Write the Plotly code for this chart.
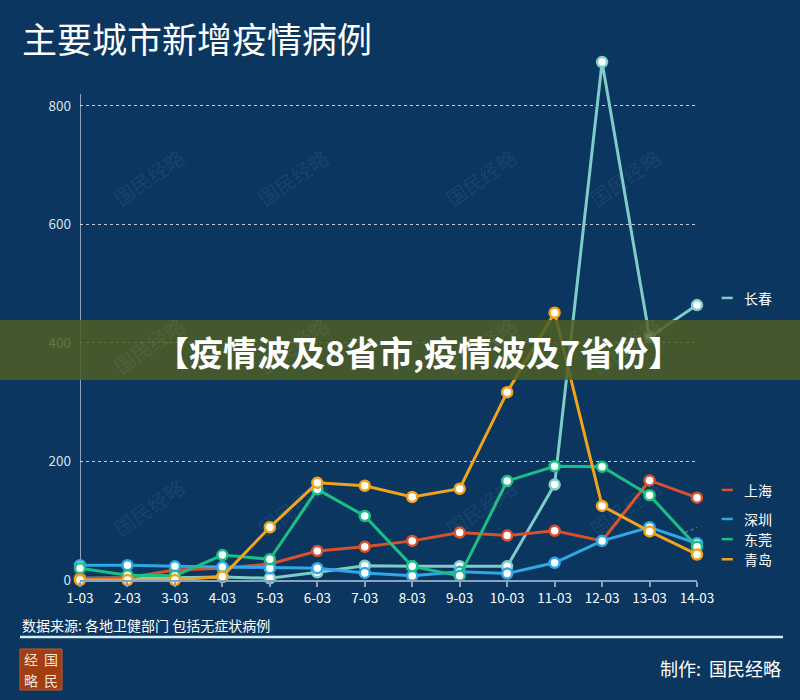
import plotly.graph_objects as go

dates = ["1-03", "2-03", "3-03", "4-03", "5-03", "6-03", "7-03", "8-03", "9-03", "10-03", "11-03", "12-03", "13-03", "14-03"]
changchun = [3, 3, 4, 5, 3, 13, 24, 23, 23, 23, 161, 874, 410, 464]
shanghai = [2, 4, 17, 20, 27, 49, 56, 66, 80, 75, 83, 66, 168, 139]
shenzhen = [25, 25, 23, 22, 20, 20, 12, 7, 14, 11, 29, 66, 89, 62]
dongguan = [20, 8, 7, 42, 35, 153, 108, 23, 7, 167, 192, 191, 143, 56]
qingdao = [0, 0, 0, 6, 89, 164, 159, 140, 154, 317, 451, 125, 82, 43]

series = [
    ("长春", changchun, "#7fcdc8"),
    ("上海", shanghai, "#d9512c"),
    ("深圳", shenzhen, "#2ea9e6"),
    ("东莞", dongguan, "#1bbf84"),
    ("青岛", qingdao, "#f0a31c"),
]
label_y = {"长春": 476, "上海": 152, "深圳": 103, "东莞": 69, "青岛": 35}

BG = "#0a3660"
FONT = "Noto Sans CJK SC"
xs = list(range(len(dates)))

fig = go.Figure()
for name, vals, col in series:
    fig.add_trace(go.Scatter(
        x=xs, y=vals, mode="lines+markers", name=name,
        line=dict(color=col, width=3),
        marker=dict(size=10, color="white", line=dict(color=col, width=2.5)),
        cliponaxis=False, showlegend=False,
    ))

annotations = []
shapes = []

# legend-like end labels
for name, vals, col in series:
    y = label_y[name]
    shapes.append(dict(type="line", xref="paper", yref="y", x0=1.04, x1=1.058, y0=y, y1=y,
                       line=dict(color=col, width=2.5)))
    annotations.append(dict(text=name, xref="paper", yref="y", x=1.074, y=y, xanchor="left",
                            yanchor="middle", showarrow=False, borderpad=0,
                            font=dict(family=FONT, size=14, color="white")))

# leader dotted lines
shapes.append(dict(type="line", xref="x", yref="y", x0=12.75, x1=13.5, y0=80, y1=106,
                   line=dict(color="rgba(200,215,230,0.6)", width=1, dash="dot")))
shapes.append(dict(type="line", xref="x", yref="y", x0=13.05, x1=13.5, y0=42, y1=36,
                   line=dict(color="rgba(200,215,230,0.6)", width=1, dash="dot")))

# left axis line
shapes.append(dict(type="line", xref="x", yref="y", x0=0, x1=0, y0=0, y1=820,
                   line=dict(color="#8aa2bb", width=2), layer="below"))

# watermarks
for wx in [0.04, 0.345, 0.65, 0.955]:
    for wy in [140, 345, 545]:
        annotations.append(dict(text="国民经略", xref="paper", yref="paper",
                                x=wx, y=(580 - wy) / 525, showarrow=False, textangle=-35,
                                font=dict(family=FONT, size=20, color="rgba(255,255,255,0.08)")))

# banner
shapes.append(dict(type="rect", xref="paper", yref="paper", x0=-0.2, x1=1.3,
                   y0=(580 - 380) / 525, y1=(580 - 320) / 525,
                   fillcolor="rgba(78,94,36,0.85)", line=dict(width=0), layer="above"))
annotations.append(dict(text="<b>【疫情波及8省市,疫情波及7省份】</b>", xref="paper", yref="paper",
                        x=(418 - 80) / 617, y=(580 - 351) / 525, showarrow=False,
                        font=dict(family=FONT, size=34, color="white")))

# title
annotations.append(dict(text="主要城市新增疫情病例", xref="paper", yref="paper",
                        x=(20 - 80) / 617, y=(580 - 38) / 525, xanchor="left", yanchor="middle",
                        showarrow=False, font=dict(family=FONT, size=35, color="white")))

# source
annotations.append(dict(text="数据来源: 各地卫健部门 包括无症状病例", xref="paper", yref="paper",
                        x=(20 - 80) / 617, y=(580 - 625) / 525, xanchor="left", yanchor="middle",
                        showarrow=False, font=dict(family=FONT, size=14, color="white")))
shapes.append(dict(type="line", xref="paper", yref="paper", x0=(20 - 80) / 617, x1=(783 - 80) / 617,
                   y0=(580 - 637) / 525, y1=(580 - 637) / 525, line=dict(color="#d4ecf8", width=2.5)))

# logo
shapes.append(dict(type="rect", xref="paper", yref="paper", x0=(20 - 80) / 617, x1=(62 - 80) / 617,
                   y0=(580 - 690) / 525, y1=(580 - 649) / 525, fillcolor="#a33d12",
                   line=dict(color="#c8582a", width=1)))
for txt, lx, ly in [("经", 31, 659), ("国", 51, 659), ("略", 31, 680), ("民", 51, 680)]:
    annotations.append(dict(text=txt, xref="paper", yref="paper", x=(lx - 80) / 617, y=(580 - ly) / 525,
                            showarrow=False, xanchor="center", yanchor="middle",
                            font=dict(family="Noto Sans CJK SC", size=14, color="#f4e6d8")))

annotations.append(dict(text="制作:  国民经略", xref="paper", yref="paper",
                        x=(783 - 80) / 617, y=(580 - 668) / 525, xanchor="right", yanchor="middle",
                        showarrow=False, font=dict(family=FONT, size=18, color="white")))

fig.update_layout(
    width=800, height=700,
    margin=dict(l=80, r=103, t=55, b=120),
    paper_bgcolor=BG, plot_bgcolor=BG,
    font=dict(family=FONT, color="white"),
    shapes=shapes, annotations=annotations,
    xaxis=dict(range=[0, 13], tickvals=xs, ticktext=dates, showgrid=False, zeroline=False,
               showline=True, linecolor="#8aa2bb", linewidth=2,
               ticks="outside", ticklen=5, tickcolor="#8aa2bb", tickwidth=1.5,
               tickfont=dict(family=FONT, size=13.5, color="white")),
    yaxis=dict(range=[0, 886], tickvals=[0, 200, 400, 600, 800], showgrid=True,
               gridcolor="rgba(255,255,255,0.75)", griddash="3px,3px", gridwidth=1,
               zeroline=False, showline=False, ticks="",
               tickfont=dict(family=FONT, size=13.5, color="#d8e2ec"), ticklabelstandoff=8),
)

fig.write_html("out.html")
